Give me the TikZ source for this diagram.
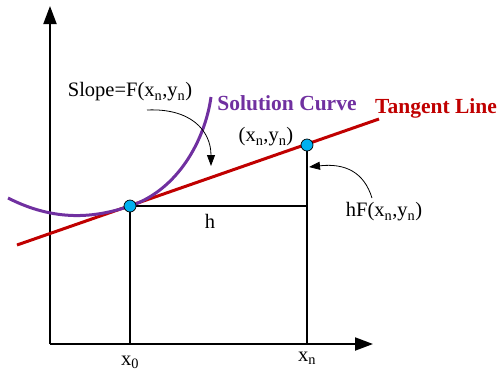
\documentclass[tikz,border=0pt]{standalone}
\usepackage{fontspec}
\setmainfont{Liberation Serif}
\usetikzlibrary{arrows.meta}
\definecolor{solpurple}{RGB}{112,48,160}
\definecolor{tanred}{RGB}{192,0,0}
\definecolor{ptcyan}{RGB}{0,176,240}
\tikzset{
  axis/.style={line width=2pt,-{Triangle[length=18pt,width=13pt]}},
  guide/.style={line width=1.6pt},
  solcurve/.style={solpurple,line width=3pt},
  tanline/.style={tanred,line width=3pt},
  pt/.style={circle,draw=black,fill=ptcyan,line width=0.7pt,minimum size=12pt,inner sep=0pt},
  lbl/.style={font=\fontsize{20.5}{23}\selectfont,inner sep=1pt},
  blbl/.style={font=\fontsize{21.5}{24}\selectfont\bfseries,inner sep=1pt},
  callout/.style={line width=0.8pt,-{Triangle[length=11pt,width=8pt]}}
}
\begin{document}
\begin{tikzpicture}[x=1pt,y=-1pt]
\useasboundingbox (0,0) rectangle (499,376);
% coordinates
\coordinate (O) at (50,344);
\coordinate (Ytop) at (50,6);
\coordinate (Xend) at (373,344);
\coordinate (P0) at (130,206);
\coordinate (Pn) at (307,145);
\coordinate (X0) at (130,344);
\coordinate (Xn) at (307,344);
\coordinate (H) at (307,206);
\coordinate (Tstart) at (17,245);
\coordinate (Tend) at (379,119);
\coordinate (Cstart) at (8,198);
\coordinate (Cend) at (211,97);
% axes
\draw[axis] (O) -- (Ytop);
\draw[axis] (O) -- (Xend);
% guides
\draw[guide] (P0) -- (X0);
\draw[guide] (Pn) -- (Xn);
\draw[guide] (P0) -- (H);
% tangent line
\draw[tanline] (Tstart) -- (Tend);
% solution curve
\draw[solcurve] (Cstart) .. controls (55,222) and (95,218) .. (P0)
  .. controls (178,190) and (205,140) .. (Cend);
% points
\node[pt] (n0) at (P0) {};
\node[pt] (nn) at (Pn) {};
% labels
\node[lbl] (slope) at (130,92) {Slope=F(x\textsubscript{n},y\textsubscript{n})};
\node[blbl,text=solpurple] (sol) at (287,103) {Solution Curve};
\node[blbl,text=tanred] (tan) at (436,108) {Tangent Line};
\node[lbl] (pnl) at (266,137) {(x\textsubscript{n},y\textsubscript{n})};
\node[lbl] (hl) at (210,221) {h};
\node[lbl] (hfl) at (384,212) {hF(x\textsubscript{n},y\textsubscript{n})};
\node[lbl] (x0l) at (130,362) {x\textsubscript{0}};
\node[lbl] (xnl) at (307,358) {x\textsubscript{n}};
% callouts
\coordinate (s1) at (147,110);
\coordinate (e1) at (211,166);
\draw[callout] (s1) .. controls (190,108) and (211,130) .. (e1);
\coordinate (s2) at (372,198);
\coordinate (e2) at (309,167);
\draw[callout] (s2) .. controls (364,172) and (345,163) .. (e2);
\end{tikzpicture}
\end{document}
